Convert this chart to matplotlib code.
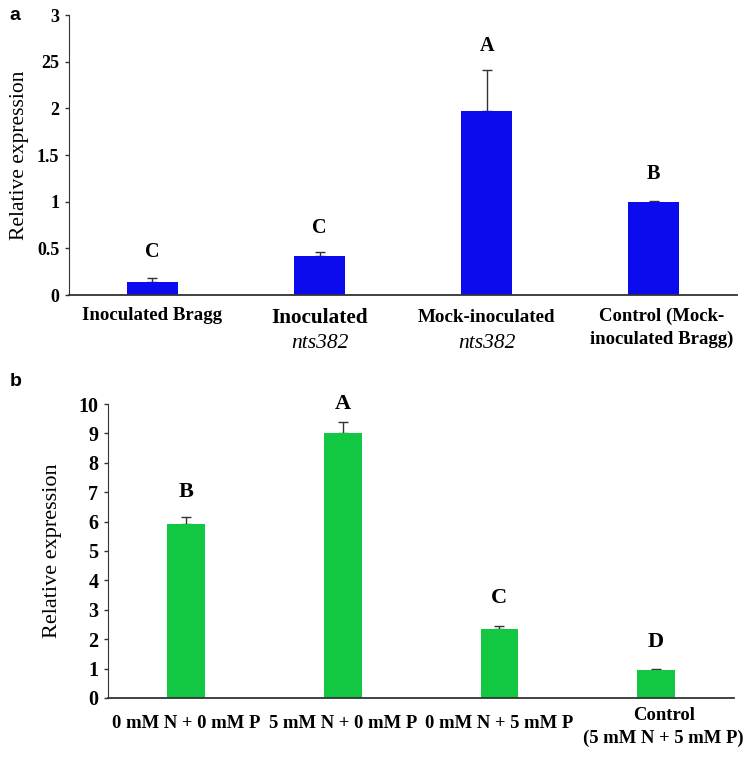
import matplotlib
matplotlib.use('Agg')
import matplotlib.pyplot as plt
import matplotlib.transforms as mtransforms

# Panel a data
a_values = [0.14, 0.42, 1.97, 1.00]
a_errors = [0.04, 0.04, 0.44, 0.01]
a_letters = ['C', 'C', 'A', 'B']
a_letter_y = [0.46, 0.72, 2.67, 1.30]
a_yticks = [0, 0.5, 1, 1.5, 2, 2.5, 3]
a_yticklabels = ['0', '0.5', '1', '1.5', '2', '25', '3']

# Panel b data
b_values = [5.92, 9.01, 2.35, 0.95]
b_errors = [0.24, 0.38, 0.10, 0.03]
b_letters = ['B', 'A', 'C', 'D']
b_letter_y = [7.0, 10.0, 3.4, 1.9]
b_labels = ['0 mM N + 0 mM P', '5 mM N + 0 mM P', '0 mM N + 5 mM P',
            'Control\n(5 mM N + 5 mM P)']

serif = 'Liberation Serif'
blue = '#0b0bee'
green = '#12c843'

fig = plt.figure(figsize=(7.49, 7.58), dpi=100)


def style_axis(ax, ylim, yticks, yticklabels, tick_size):
    ax.set_xlim(-0.5, 3.5)
    ax.set_ylim(*ylim)
    for s in ['top', 'right']:
        ax.spines[s].set_visible(False)
    ax.spines['left'].set_color('#333333')
    ax.spines['bottom'].set_color('#333333')
    ax.spines['bottom'].set_linewidth(1.3)
    ax.set_xticks([])
    ax.set_yticks(yticks)
    ax.set_yticklabels(yticklabels, fontfamily=serif, fontweight='bold',
                       fontsize=tick_size)
    ax.tick_params(axis='y', length=3, width=1, color='#333333', pad=4)


# ---- panel a ----
ax1 = fig.add_axes([0.0921, 0.6108, 0.892, 0.3694])
x = range(len(a_values))
ax1.bar(x, a_values, width=0.31, color=blue, zorder=2)
ax1.errorbar(x, a_values, yerr=[[0] * 4, a_errors], fmt='none',
             ecolor='#333333', elinewidth=1, capsize=3.5, capthick=1, zorder=1)
style_axis(ax1, (0, 3), a_yticks, a_yticklabels, 13)
for i, (t, y) in enumerate(zip(a_letters, a_letter_y)):
    ax1.text(i, y, t, ha='center', va='center', fontfamily=serif,
             fontweight='bold', fontsize=14.5)
ax1.set_ylabel('Relative expression', fontfamily=serif, fontsize=15.5,
               labelpad=6)

tr1 = mtransforms.blended_transform_factory(ax1.transData, ax1.transAxes)
ax1.text(0, -0.072, 'Inoculated Bragg', transform=tr1, ha='center', va='center',
         fontfamily=serif, fontweight='bold', fontsize=13.6)
ax1.text(1, -0.082, 'Inoculated', transform=tr1, ha='center', va='center',
         fontfamily=serif, fontweight='bold', fontsize=15.3)
ax1.text(1, -0.172, 'nts382', transform=tr1, ha='center', va='center',
         fontfamily=serif, fontstyle='italic', fontsize=15.5)
ax1.text(2, -0.082, 'Mock-inoculated', transform=tr1, ha='center', va='center',
         fontfamily=serif, fontweight='bold', fontsize=13.7)
ax1.text(2, -0.172, 'nts382', transform=tr1, ha='center', va='center',
         fontfamily=serif, fontstyle='italic', fontsize=15.5)
ax1.text(3.05, -0.075, 'Control (Mock-', transform=tr1, ha='center', va='center',
         fontfamily=serif, fontweight='bold', fontsize=13.5)
ax1.text(3.05, -0.16, 'inoculated Bragg)', transform=tr1, ha='center',
         va='center', fontfamily=serif, fontweight='bold', fontsize=13.5)

# ---- panel b ----
ax2 = fig.add_axes([0.1442, 0.0792, 0.836, 0.3878])
x = range(len(b_values))
ax2.bar(x, b_values, width=0.24, color=green, zorder=2)
ax2.errorbar(x, b_values, yerr=[[0] * 4, b_errors], fmt='none',
             ecolor='#333333', elinewidth=1, capsize=3.5, capthick=1, zorder=1)
style_axis(ax2, (0, 10), list(range(11)), [str(v) for v in range(11)], 14.5)
for i, (t, y) in enumerate(zip(b_letters, b_letter_y)):
    ax2.text(i, y, t, ha='center', va='center', fontfamily=serif,
             fontweight='bold', fontsize=16)
ax2.set_ylabel('Relative expression', fontfamily=serif, fontsize=16,
               labelpad=12)

tr2 = mtransforms.blended_transform_factory(ax2.transData, ax2.transAxes)
for i, lab in enumerate(b_labels):
    if '\n' in lab:
        top, bottom = lab.split('\n')
        ax2.text(i + 0.05, -0.06, top, transform=tr2, ha='center', va='center',
                 fontfamily=serif, fontweight='bold', fontsize=13.4)
        ax2.text(i + 0.05, -0.139, bottom, transform=tr2, ha='center',
                 va='center', fontfamily=serif, fontweight='bold', fontsize=13.4)
    else:
        ax2.text(i, -0.087, lab, transform=tr2, ha='center', va='center',
                 fontfamily=serif, fontweight='bold', fontsize=13.4)

fig.text(0.013, 0.98, 'a', fontfamily='Liberation Sans', fontweight='bold',
         fontsize=14, va='center')
fig.text(0.013, 0.497, 'b', fontfamily='Liberation Sans', fontweight='bold',
         fontsize=14, va='center')

fig.savefig('out.png', dpi=100)
